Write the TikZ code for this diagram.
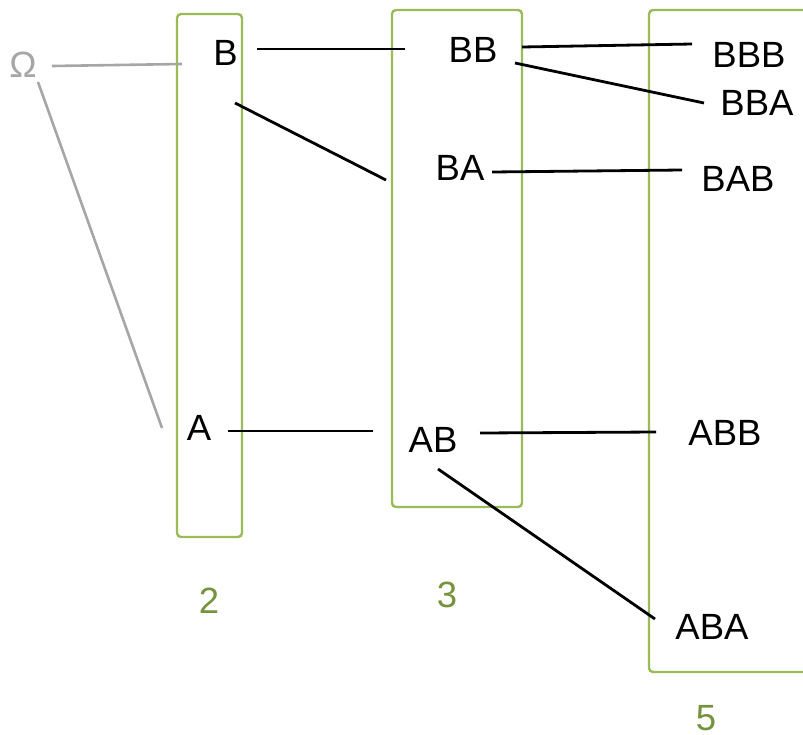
\documentclass[tikz,border=0pt]{standalone}
\usepackage{fontspec}
\setmainfont{Liberation Sans}
\definecolor{boxgreen}{HTML}{9BBB59}
\definecolor{countgreen}{HTML}{76923C}
\definecolor{rootgray}{HTML}{A6A6A6}
\begin{document}
\begin{tikzpicture}[x=1pt,y=-1pt,
  lbl/.style={inner sep=0pt,font=\fontsize{36.5}{42}\selectfont},
  rootlbl/.style={lbl,text=rootgray},
  countlbl/.style={lbl,text=countgreen},
  column/.style={draw=boxgreen,line width=2.4pt,rounded corners=4pt,inner sep=0pt},
  edge/.style={line width=2.8pt,black},
  rootedge/.style={line width=2.6pt,rootgray}]
\useasboundingbox (0,0) rectangle (803,734);
\clip (0,0) rectangle (803,734);

% columns of the tree levels
\node[column,minimum width=65pt,minimum height=523pt] (col2) at (209.5,275.5) {};
\node[column,minimum width=130pt,minimum height=497pt] (col3) at (457,258.5) {};
\node[column,minimum width=170pt,minimum height=662pt] (col5) at (734,341) {};

% sizes of the levels
\node[countlbl] (n2) at (209,601) {2};
\node[countlbl] (n3) at (447,595) {3};
\node[countlbl] (n5) at (706,718) {5};

% words
\node[rootlbl] (O) at (23,65) {Ω};
\node[lbl] (B) at (225.5,53) {B};
\node[lbl] (A) at (199,428) {A};
\node[lbl] (BB) at (473,50) {BB};
\node[lbl] (BA) at (460,168) {BA};
\node[lbl] (AB) at (433,440) {AB};
\node[lbl] (BBB) at (749,55) {BBB};
\node[lbl] (BBA) at (757,103) {BBA};
\node[lbl] (BAB) at (738,179) {BAB};
\node[lbl] (ABB) at (725,433) {ABB};
\node[lbl] (ABA) at (712,627) {ABA};

% branches from the root
\draw[rootedge] ([shift={(29,1)}]O.center) -- ([shift={(-43.5,11)}]B.center);
\draw[rootedge] ([shift={(15,17)}]O.center) -- ([shift={(-37,0)}]A.center);

% branches between words
\draw[edge] ([shift={(31.5,-4)}]B.center) -- ([shift={(-68,-1)}]BB.center);
\draw[edge] ([shift={(9.5,50)}]B.center) -- ([shift={(-74,12)}]BA.center);
\draw[edge] ([shift={(29,3)}]A.center) -- ([shift={(-60,-9)}]AB.center);
\draw[edge] ([shift={(49,-3)}]BB.center) -- ([shift={(-57,-11)}]BBB.center);
\draw[edge] ([shift={(42,13)}]BB.center) -- ([shift={(-53,0)}]BBA.center);
\draw[edge] ([shift={(32,4)}]BA.center) -- ([shift={(-56,-9)}]BAB.center);
\draw[edge] ([shift={(47,-7)}]AB.center) -- ([shift={(-69,-1)}]ABB.center);
\draw[edge] ([shift={(5,29)}]AB.center) -- ([shift={(-57,-8)}]ABA.center);
\end{tikzpicture}
\end{document}
